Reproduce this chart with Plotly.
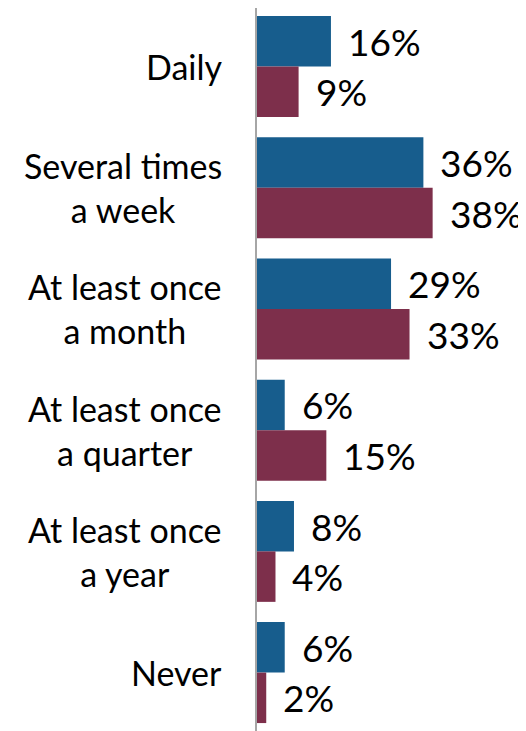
import plotly.graph_objects as go

categories = ["Daily", "Several times<br>a week", "At least once<br>a month",
              "At least once<br>a quarter", "At least once<br>a year", "Never"]
cat_keys = ["Daily", "Several times a week", "At least once a month",
            "At least once a quarter", "At least once a year", "Never"]
series_a = [16, 36, 29, 6, 8, 6]
series_b = [9, 38, 33, 15, 4, 2]
colors = ["#175d8d", "#7d2f4b"]

FONT = "Lato"
fig = go.Figure()
for vals, col in zip([series_a, series_b], colors):
    fig.add_trace(go.Bar(
        y=cat_keys, x=vals, orientation="h",
        marker=dict(color=col, line=dict(width=0)),
        text=[f"{v}%" for v in vals], textposition="none",
        hoverinfo="skip", showlegend=False))

annotations = []
for key, label in zip(cat_keys, categories):
    annotations.append(dict(
        x=0, xref="paper", y=key, yref="y", text=label, showarrow=False,
        xanchor="right", yanchor="middle", align="center", xshift=-33,
        font=dict(family=FONT, size=34, color="#000000")))

for vals, shift in zip([series_a, series_b], [25.3, -25.3]):
    for key, v in zip(cat_keys, vals):
        annotations.append(dict(
            x=v, xref="x", y=key, yref="y", text=f"{v}%", showarrow=False,
            xanchor="left", yanchor="middle", xshift=15, yshift=shift,
            font=dict(family=FONT, size=37, color="#000000")))

fig.update_layout(
    width=518, height=723,
    margin=dict(l=249, r=0, t=0, b=0),
    paper_bgcolor="white", plot_bgcolor="white",
    barmode="group", bargap=0.167, bargroupgap=0,
    annotations=annotations,
    xaxis=dict(range=[0, 58.2], visible=False, showgrid=False, zeroline=False),
    yaxis=dict(range=[5.482, -0.4835], showticklabels=False, ticks="",
               showgrid=False, zeroline=False, showline=True,
               linecolor="#a6a6a6", linewidth=2),
)
fig.write_html("out.html")
